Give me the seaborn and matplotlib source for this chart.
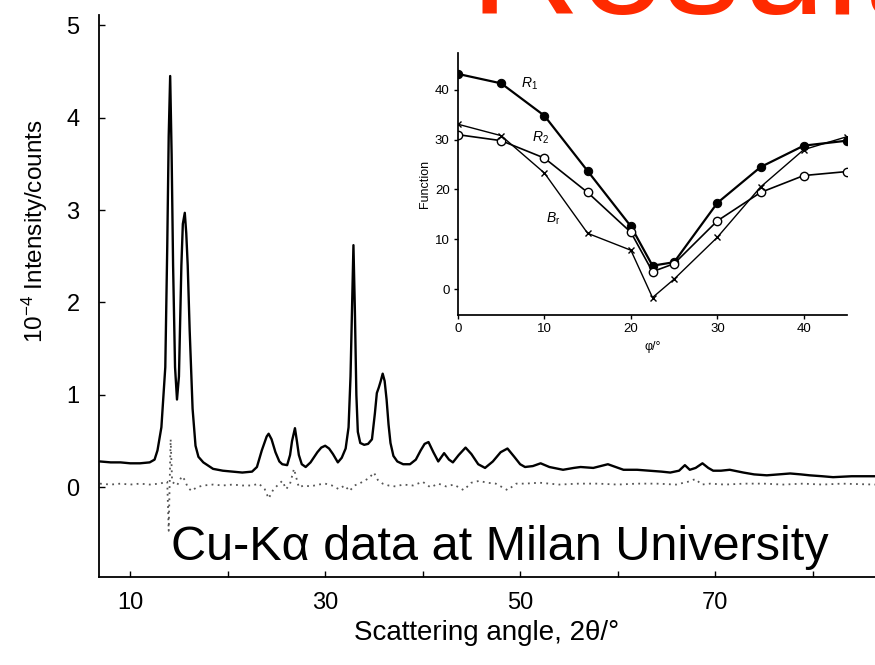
import matplotlib
matplotlib.use("Agg")
import matplotlib.pyplot as plt
import seaborn as sns
import pandas as pd

# ---------------- data ----------------
two_theta = [6.9, 8.0, 9.0, 10.0, 11.0, 12.0, 12.5, 12.8, 13.2, 13.6,
             13.8, 13.95, 14.1, 14.25, 14.4, 14.6, 14.8, 15.0, 15.1, 15.25,
             15.4, 15.6, 15.75, 15.9, 16.1, 16.4, 16.7, 17.0, 17.5, 18.5,
             19.5, 20.5, 21.5, 22.5, 23.0, 23.5, 24.0, 24.2, 24.5, 24.9,
             25.3, 25.6, 26.1, 26.4, 26.6, 26.9, 27.1, 27.3, 27.6, 28.0,
             28.5, 29.2, 29.6, 30.0, 30.4, 30.8, 31.3, 31.7, 32.1, 32.4,
             32.6, 32.75, 32.9, 33.05, 33.2, 33.35, 33.6, 34.0, 34.4, 34.8,
             35.1, 35.3, 35.5, 35.7, 35.9, 36.1, 36.3, 36.5, 36.7, 37.0,
             37.4, 38.0, 38.7, 39.3, 39.8, 40.2, 40.6, 41.1, 41.6, 42.2,
             42.7, 43.1, 43.7, 44.4, 45.0, 45.7, 46.4, 47.2, 48.0, 48.7,
             49.4, 50.0, 50.5, 51.3, 52.1, 53.0, 54.4, 55.5, 56.2, 57.5,
             59.0, 60.6, 62.0, 63.3, 64.5, 65.4, 66.3, 66.9, 67.4, 68.0,
             68.7, 69.3, 69.8, 70.6, 71.5, 72.9, 74.0, 75.3, 76.5, 77.7,
             78.8, 79.7, 81.0, 82.1, 84.0, 86.4]
intensity = [0.28, 0.27, 0.27, 0.26, 0.26, 0.27, 0.30, 0.40, 0.65, 1.30,
             2.60, 3.80, 4.45, 3.60, 2.40, 1.30, 0.95, 1.20, 1.70, 2.40,
             2.85, 2.97, 2.75, 2.40, 1.70, 0.85, 0.45, 0.33, 0.27, 0.20,
             0.18, 0.17, 0.16, 0.17, 0.22, 0.40, 0.55, 0.58, 0.52, 0.38,
             0.28, 0.25, 0.24, 0.35, 0.50, 0.64, 0.50, 0.35, 0.25, 0.22,
             0.27, 0.38, 0.43, 0.45, 0.42, 0.36, 0.27, 0.32, 0.42, 0.65,
             1.20, 1.90, 2.62, 1.90, 1.00, 0.60, 0.48, 0.46, 0.47, 0.52,
             0.80, 1.02, 1.08, 1.15, 1.23, 1.15, 0.95, 0.68, 0.48, 0.34,
             0.28, 0.25, 0.25, 0.30, 0.40, 0.47, 0.49, 0.38, 0.28, 0.37,
             0.30, 0.27, 0.35, 0.43, 0.36, 0.25, 0.21, 0.28, 0.38, 0.42,
             0.33, 0.25, 0.22, 0.23, 0.26, 0.22, 0.19, 0.21, 0.22, 0.21,
             0.25, 0.19, 0.19, 0.18, 0.17, 0.16, 0.18, 0.24, 0.19, 0.21,
             0.26, 0.21, 0.18, 0.18, 0.19, 0.16, 0.14, 0.13, 0.14, 0.15,
             0.14, 0.13, 0.12, 0.11, 0.12, 0.12]

diff_theta = [6.9, 8.0, 9.0, 10.0, 11.0, 12.0, 13.0, 13.8, 13.95, 14.05,
              14.15, 14.3, 14.8, 15.3, 15.6, 15.9, 16.3, 16.8, 17.5, 18.5,
              19.5, 20.5, 21.5, 22.5, 23.2, 23.8, 24.2, 24.7, 25.2, 25.6,
              26.0, 26.4, 26.8, 27.0, 27.3, 27.8, 28.5, 29.3, 30.0, 30.7,
              31.4, 32.0, 32.5, 33.0, 33.5, 34.0, 34.5, 35.0, 35.4, 35.9,
              36.5, 37.2, 38.0, 39.0, 40.0, 40.8, 41.6, 42.4, 43.2, 44.2,
              45.0, 45.8, 46.6, 47.5, 48.7, 49.6, 50.5, 52.0, 54.0, 56.0,
              58.0, 60.0, 62.0, 64.0, 66.0, 67.2, 68.0, 68.6, 69.5, 71.0,
              73.0, 75.0, 77.0, 79.0, 81.0, 83.0, 86.4]
difference = [0.04, 0.03, 0.04, 0.03, 0.04, 0.03, 0.04, 0.06, -0.47, 0.05,
              0.52, 0.06, 0.02, 0.12, 0.08, 0.00, -0.04, 0.00, 0.02, 0.03,
              0.02, 0.03, 0.02, 0.02, 0.04, -0.02, -0.12, -0.02, 0.03, 0.07,
              -0.02, 0.04, 0.20, 0.12, 0.00, 0.02, 0.01, 0.03, 0.04, 0.02,
              -0.02, 0.02, -0.04, 0.02, 0.04, 0.07, 0.10, 0.16, 0.08, 0.04,
              0.02, 0.01, 0.03, 0.02, 0.06, 0.00, 0.04, 0.01, 0.03, -0.03,
              0.05, 0.07, 0.05, 0.04, -0.03, 0.04, 0.04, 0.05, 0.03, 0.04,
              0.04, 0.03, 0.04, 0.04, 0.03, 0.06, 0.09, 0.03, 0.04, 0.03,
              0.04, 0.04, 0.03, 0.04, 0.03, 0.04, 0.03]

phi = [0, 5, 10, 15, 20, 22.5, 25, 30, 35, 40, 45]
R1 = [43.2, 41.3, 34.8, 23.7, 12.6, 4.7, 5.4, 17.3, 24.5, 28.8, 29.8]
R2 = [31.0, 29.8, 26.3, 19.4, 11.4, 3.5, 5.1, 13.7, 19.4, 22.8, 23.6]
Br = [33.1, 30.8, 23.3, 11.2, 7.8, -1.7, 2.0, 10.4, 20.5, 28.0, 30.6]

main_xticks = [10, 20, 30, 40, 50, 60, 70, 80]
main_xticklabels = ["10", "", "30", "", "50", "", "70", ""]
main_yticks = [0, 1, 2, 3, 4, 5]
inset_xticks = [0, 10, 20, 30, 40]
inset_yticks = [0, 10, 20, 30, 40]

# ---------------- style ----------------
sns.set_theme(style="ticks")
plt.rcParams["font.family"] = ["Liberation Sans", "DejaVu Sans"]
plt.rcParams["mathtext.fontset"] = "custom"
plt.rcParams["mathtext.rm"] = "Liberation Sans"
plt.rcParams["mathtext.it"] = "Liberation Sans:italic"
plt.rcParams["text.color"] = "black"
plt.rcParams["axes.labelcolor"] = "black"
plt.rcParams["xtick.color"] = "black"
plt.rcParams["ytick.color"] = "black"
plt.rcParams["axes.edgecolor"] = "black"

fig = plt.figure(figsize=(8.75, 6.65), dpi=100)

# ---------------- main axes ----------------
ax = fig.add_axes([99 / 875, 1 - 577 / 665, (875 - 99) / 875, (577 - 15) / 665])
df_main = pd.DataFrame({"two_theta": two_theta, "intensity": intensity})
df_diff = pd.DataFrame({"two_theta": diff_theta, "difference": difference})
sns.lineplot(data=df_main, x="two_theta", y="intensity", ax=ax, sort=False,
             estimator=None, color="black", linewidth=1.7)
sns.lineplot(data=df_diff, x="two_theta", y="difference", ax=ax, sort=False,
             estimator=None, color="#555555", linewidth=1.3,
             linestyle=(0, (1, 2.4)))
ax.set_xlim(6.8, 86.4)
ax.set_ylim(-0.97, 5.11)
ax.set_xticks(main_xticks)
ax.set_xticklabels(main_xticklabels)
ax.set_yticks(main_yticks)
ax.tick_params(direction="in", length=4, width=1, labelsize=17)
ax.tick_params(axis="x", pad=11)
ax.tick_params(axis="y", pad=14)
for s in ["top", "right"]:
    ax.spines[s].set_visible(False)
for s in ["left", "bottom"]:
    ax.spines[s].set_linewidth(1.3)
ax.set_xlabel("Scattering angle, 2θ/°", fontsize=20, labelpad=4)
ax.set_ylabel(r"$10^{-4}$ Intensity/counts", fontsize=17.5)
ax.yaxis.set_label_coords(-0.063, 0.615)
ax.text(0.517, 0.052, "Cu-Kα data at Milan University", transform=ax.transAxes,
        fontsize=35, ha="center", va="center", color="black")

# red slide title, clipped by the top edge exactly as in the reference slide
fig.text(470 / 875, 1 - 14 / 665, "Results", color="#FF2A00", fontsize=110,
         ha="left", va="baseline")

# ---------------- inset ----------------
axi = fig.add_axes([458 / 875, 1 - 315 / 665, (847 - 458) / 875, (315 - 53) / 665])
df_in = pd.DataFrame({"phi": phi, "R1": R1, "R2": R2, "Br": Br})
sns.lineplot(data=df_in, x="phi", y="R1", ax=axi, color="black", linewidth=1.6,
             marker="o", markersize=6, markerfacecolor="black",
             markeredgecolor="black")
sns.lineplot(data=df_in, x="phi", y="R2", ax=axi, color="black", linewidth=1.2,
             marker="o", markersize=6, markerfacecolor="white",
             markeredgecolor="black", markeredgewidth=1)
sns.lineplot(data=df_in, x="phi", y="Br", ax=axi, color="black", linewidth=1.0,
             marker="x", markersize=4, markeredgecolor="black",
             markeredgewidth=1)
axi.set_xlim(0, 45)
axi.set_ylim(-5.2, 47.4)
axi.set_xticks(inset_xticks)
axi.set_yticks(inset_yticks)
axi.tick_params(direction="out", length=3, width=1, labelsize=9.5, pad=3)
for s in ["top", "right"]:
    axi.spines[s].set_visible(False)
axi.set_xlabel("φ/°", fontsize=9, labelpad=4)
axi.set_ylabel("Function", fontsize=9, labelpad=3)
axi.text(7.3, 41.3, r"$R_1$", fontsize=10, ha="left", va="center")
axi.text(8.6, 30.3, r"$R_2$", fontsize=10, ha="left", va="center")
axi.text(10.2, 14.2, r"$B_\mathrm{r}$", fontsize=10, ha="left", va="center")

fig.savefig("out.png", dpi=100)
